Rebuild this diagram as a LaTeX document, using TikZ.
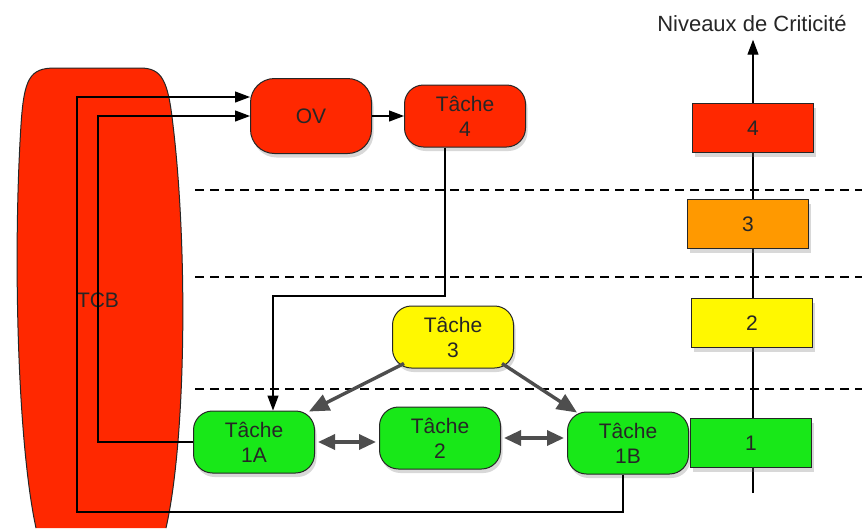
\documentclass[tikz,border=0pt]{standalone}
\usepackage{fontspec}
\setmainfont{Liberation Sans}
\usetikzlibrary{arrows.meta,shadows}
\definecolor{critred}{RGB}{255,40,0}
\definecolor{critorange}{RGB}{255,153,0}
\definecolor{crityellow}{RGB}{255,248,0}
\definecolor{critgreen}{RGB}{24,232,24}
\definecolor{flowgray}{RGB}{78,78,78}
\begin{document}
\begin{tikzpicture}[x=1pt, y=-1pt, every node/.style={font=\fontsize{21}{25}\selectfont, text=black!85},
  task/.style={draw=black!85, line width=1pt, rounded corners=19pt, minimum width=121pt, minimum height=62pt, align=center, drop shadow={opacity=0.3,shadow xshift=2pt,shadow yshift=-4pt}},
  level/.style={draw=black!85, line width=1pt, minimum width=121pt, minimum height=49pt, drop shadow={opacity=0.3,shadow xshift=2pt,shadow yshift=-4pt}},
  link/.style={-{Triangle[length=15pt,width=11pt]}, line width=1.2pt},
  prio/.style={-{Triangle[length=20pt,width=17pt]}, line width=3.4pt, flowgray},
  share/.style={{Triangle[length=17pt,width=15pt]}-{Triangle[length=17pt,width=15pt]}, line width=3.4pt, flowgray},
  sep/.style={dash pattern=on 9pt off 6pt, line width=1.3pt}]
  \fill[white] (0,0) rectangle (862,528);
  \clip (0,0) rectangle (862,528);
  % Separations between levels
  \foreach \y in {190,277,389} \draw[sep] (195,\y) -- (862,\y);
  % TCB
  \filldraw[fill=critred, draw=black!85, line width=1pt] (36,528) .. controls (17,440) and (13,250) .. (21,125) .. controls (24,78) and (30,68) .. (55,68) -- (140,68) .. controls (162,68) and (168,80) .. (173,125) .. controls (188,250) and (186,440) .. (166,528);
  \node (tcb) at (98,300) {TCB};
  % Tasks
  \node[task, fill=critred, rounded corners=24pt, minimum height=75pt] (ov) at (311,116) {OV};
  \node[task, fill=critred] (t4) at (465,116) {Tâche\\4};
  \node[task, fill=crityellow] (t3) at (453,337) {Tâche\\3};
  \node[task, fill=critgreen] (t1A) at (254,442) {Tâche\\1A};
  \node[task, fill=critgreen] (t2) at (440,438) {Tâche\\2};
  \node[task, fill=critgreen] (t1B) at (628,443) {Tâche\\1B};
  % Criticality axis
  \node[font=\fontsize{22}{26}\selectfont] (crit) at (752,24) {Niveaux de Criticité};
  \coordinate (axisbot) at (753,493);
  \draw[link] (axisbot) -- ([yshift=-4pt]crit.south -| axisbot);
  \node[level, fill=critred] (lv4) at (753,128) {4};
  \node[level, fill=critorange] (lv3) at (748,224) {3};
  \node[level, fill=crityellow] (lv2) at (752,323) {2};
  \node[level, fill=critgreen] (lv1) at (751,443) {1};
  % Flows
  \coordinate (outerbl) at (77,512);
  \coordinate (innertop) at (98,116);
  \coordinate (bend) at (273,296);
  \draw[link] ([xshift=-5pt]t1B.south) |- (outerbl) |- ([yshift=19pt]ov.west);
  \draw[link] (t1A.west) -| (innertop) -- (ov.west);
  \draw[link] (ov) -- (t4);
  \draw[link] ([xshift=-20pt]t4.south) |- (bend) -- (bend |- t1A.north);
  \draw[prio] ([xshift=12pt,yshift=5pt]t3.south west) -- ([xshift=-6pt,yshift=-1pt]t1A.north east);
  \draw[prio] ([xshift=-12pt,yshift=5pt]t3.south east) -- ([xshift=10pt,yshift=-1pt]t1B.north west);
  \draw[share, shorten <=3pt, shorten >=3pt] (t1A.east) -- (t1A.east -| t2.west);
  \draw[share, shorten <=3pt, shorten >=3pt] (t2.east) -- (t2.east -| t1B.west);
\end{tikzpicture}
\end{document}
